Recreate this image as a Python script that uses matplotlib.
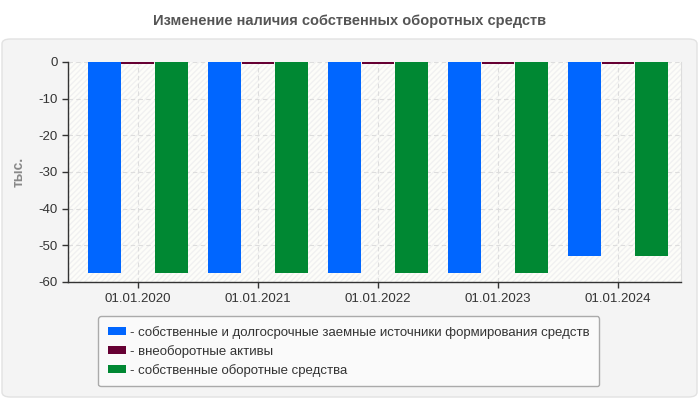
import matplotlib
matplotlib.use("Agg")
import matplotlib.pyplot as plt
from matplotlib.patches import FancyBboxPatch, Rectangle
import numpy as np

plt.rcParams['font.family'] = ['Liberation Sans', 'DejaVu Sans']

categories = ["01.01.2020", "01.01.2021", "01.01.2022", "01.01.2023", "01.01.2024"]
series_names = [
    "собственные и долгосрочные заемные источники формирования средств",
    "внеоборотные активы",
    "собственные оборотные средства",
]
own_longterm = [-57.5, -57.5, -57.5, -57.5, -52.8]
noncurrent = [-0.5, -0.5, -0.5, -0.5, -0.5]
own_working = [-57.5, -57.5, -57.5, -57.5, -52.8]
colors = ["#0066ff", "#660033", "#008833"]
yticks = [0, -10, -20, -30, -40, -50, -60]

W, H = 700, 400
fig = plt.figure(figsize=(7, 4), dpi=100)
fig.patch.set_facecolor("white")

# outer panel
panel = FancyBboxPatch((2 / W, 3 / H), 695 / W, 358 / H,
                       boxstyle="round,pad=0,rounding_size=0.012",
                       transform=fig.transFigure, facecolor="#f4f4f4",
                       edgecolor="#e2e2e2", linewidth=1, zorder=-5)
fig.patches.append(panel)

fig.text(0.5, 1 - 21 / H, "Изменение наличия собственных оборотных средств",
         ha="center", va="center", fontsize=10.5, fontweight="bold", color="#555555")

ax = fig.add_axes([68 / W, 1 - 282 / H, (681 - 68) / W, (282 - 62) / H], zorder=2)
ax.set_facecolor("#fdfdf9")
ax.add_patch(Rectangle((0, 0), 1, 1, transform=ax.transAxes, facecolor="none",
                       edgecolor="#f1f1f1", hatch="//////", linewidth=0, zorder=0))

x = np.arange(len(categories))
bw = 0.28
data = [own_longterm, noncurrent, own_working]
offsets = [-bw, 0, bw]
for vals, off, c, name in zip(data, offsets, colors, series_names):
    ax.bar(x + off, vals, width=bw * 0.98, color=c, label=name, zorder=3)

ax.set_xlim(-0.583, 4.525)
ax.set_ylim(-60, 0)
ax.set_yticks(yticks)
ax.set_yticklabels([str(v) for v in yticks])
ax.set_xticks(x)
ax.set_xticklabels(categories)
ax.tick_params(axis="both", labelsize=9.5, colors="#333333", length=4, width=1)
ax.tick_params(axis="x", pad=4)
ax.grid(True, linestyle=(0, (4, 3)), color="#dddddd", linewidth=0.8, zorder=1)
ax.set_axisbelow(True)
for s in ["left", "bottom"]:
    ax.spines[s].set_color("#333333")
    ax.spines[s].set_linewidth(1)
ax.spines["top"].set_visible(False)
ax.spines["right"].set_color("#dddddd")

ax.set_ylabel("тыс.", fontsize=10, fontweight="bold", color="#888888", labelpad=9)

leg = fig.legend(loc="upper left", bbox_to_anchor=(98 / W, 1 - 316 / H),
                 borderaxespad=0,
                 frameon=True, fontsize=9.5, handlelength=1.35, handleheight=0.6,
                 handletextpad=0.3, labelspacing=0.45, borderpad=0.75, fancybox=True)
leg.set_zorder(5)
fr = leg.get_frame()
fr.set_facecolor("#fafafa")
fr.set_edgecolor("#aaaaaa")
fr.set_alpha(1)
for t in leg.get_texts():
    t.set_text("- " + t.get_text())
    t.set_color("#333333")

fig.savefig("out.png", dpi=100)
